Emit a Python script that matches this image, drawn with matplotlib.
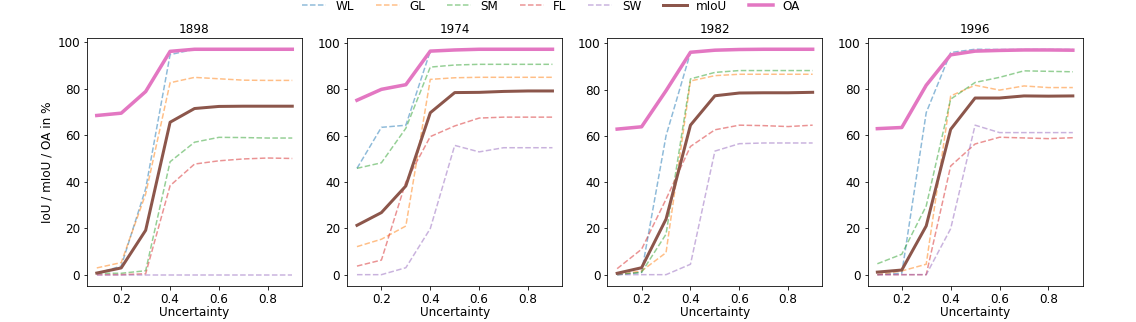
import matplotlib
matplotlib.use("Agg")
import matplotlib.pyplot as plt
import numpy as np

uncertainty = [0.1, 0.2, 0.3, 0.4, 0.5, 0.6, 0.7, 0.8, 0.9]
years = ["1898", "1974", "1982", "1996"]
series_names = ["WL", "GL", "SM", "FL", "SW", "mIoU", "OA"]

# values per year, in %
wl = {
    "1898": [0.5, 3.7, 37.0, 94.7, 97.0, 97.0, 97.0, 97.0, 97.0],
    "1974": [45.9, 63.6, 64.5, 96.5, 97.0, 97.3, 97.3, 97.3, 97.3],
    "1982": [0.0, 1.0, 60.0, 96.0, 97.0, 97.3, 97.4, 97.4, 97.4],
    "1996": [0.0, 0.6, 69.8, 95.7, 97.1, 97.0, 97.0, 97.0, 97.0],
}
gl = {
    "1898": [2.9, 5.2, 34.7, 82.6, 84.9, 84.3, 83.7, 83.6, 83.6],
    "1974": [12.1, 15.3, 21.0, 84.3, 85.0, 85.2, 85.2, 85.2, 85.2],
    "1982": [0.0, 1.6, 9.5, 83.7, 86.0, 86.6, 86.6, 86.6, 86.6],
    "1996": [0.0, 1.6, 4.5, 77.0, 81.6, 79.5, 81.3, 80.6, 80.6],
}
sm = {
    "1898": [0.6, 0.6, 1.7, 48.6, 57.0, 59.1, 59.0, 58.8, 58.8],
    "1974": [45.9, 48.3, 63.2, 89.6, 90.5, 90.8, 90.8, 90.8, 90.8],
    "1982": [0.0, 1.0, 17.5, 84.6, 87.4, 88.2, 88.2, 88.2, 88.2],
    "1996": [4.7, 8.8, 29.6, 75.6, 82.8, 85.0, 87.8, 87.6, 87.4],
}
fl = {
    "1898": [0.0, 0.0, 0.4, 38.3, 47.6, 49.0, 49.8, 50.2, 50.0],
    "1974": [3.7, 6.3, 40.0, 59.6, 64.2, 67.6, 68.0, 68.0, 68.0],
    "1982": [2.6, 11.0, 32.6, 55.4, 62.6, 64.6, 64.4, 64.0, 64.6],
    "1996": [0.0, 0.0, 0.0, 46.8, 56.3, 59.2, 58.9, 58.6, 59.0],
}
sw = {
    "1898": [0.0, 0.0, 0.0, 0.0, 0.0, 0.0, 0.0, 0.0, 0.0],
    "1974": [0.0, 0.0, 3.0, 19.9, 55.8, 53.0, 54.8, 54.8, 54.8],
    "1982": [0.0, 0.0, 0.0, 4.5, 53.4, 56.6, 56.9, 56.9, 56.9],
    "1996": [0.0, 0.0, 0.0, 19.8, 64.4, 61.2, 61.2, 61.2, 61.2],
}
miou = {
    "1898": [0.7, 2.9, 19.1, 65.6, 71.5, 72.4, 72.5, 72.5, 72.5],
    "1974": [21.3, 26.8, 38.3, 69.9, 78.6, 78.7, 79.1, 79.3, 79.3],
    "1982": [0.6, 3.0, 24.0, 64.6, 77.3, 78.5, 78.6, 78.6, 78.8],
    "1996": [1.1, 2.0, 21.0, 62.6, 76.1, 76.1, 77.0, 76.9, 77.0],
}
oa = {
    "1898": [68.5, 69.5, 78.8, 96.1, 97.0, 97.0, 97.0, 97.0, 97.0],
    "1974": [75.3, 80.0, 82.0, 96.5, 97.0, 97.3, 97.3, 97.3, 97.3],
    "1982": [62.9, 63.9, 79.5, 96.1, 97.0, 97.3, 97.4, 97.4, 97.4],
    "1996": [62.9, 63.4, 81.6, 94.7, 96.3, 96.6, 96.8, 96.8, 96.7],
}

all_series = [wl, gl, sm, fl, sw, miou, oa]
styles = [
    {"color": "tab:blue", "ls": "--", "lw": 1.5, "alpha": 0.5},
    {"color": "tab:orange", "ls": "--", "lw": 1.5, "alpha": 0.5},
    {"color": "tab:green", "ls": "--", "lw": 1.5, "alpha": 0.5},
    {"color": "tab:red", "ls": "--", "lw": 1.5, "alpha": 0.5},
    {"color": "tab:purple", "ls": "--", "lw": 1.5, "alpha": 0.5},
    {"color": "tab:brown", "ls": "-", "lw": 3.0, "alpha": 1.0},
    {"color": "tab:pink", "ls": "-", "lw": 3.5, "alpha": 1.0},
]

plt.rcParams.update({
    "font.size": 12,
    "axes.titlesize": 12,
    "axes.labelsize": 12,
    "legend.fontsize": 12,
})

fig, axes = plt.subplots(1, 4, figsize=(1136 / 72, 322 / 72), dpi=72)
fig.subplots_adjust(left=0.0766, right=0.953, bottom=0.112, top=0.882, wspace=0.21)

for ax, year in zip(axes, years):
    for name, data, st in zip(series_names, all_series, styles):
        ax.plot(uncertainty, data[year], label=name, color=st["color"],
                linestyle=st["ls"], linewidth=st["lw"], alpha=st["alpha"])
    ax.set_title(year, pad=4.5)
    ax.set_xlabel("Uncertainty", labelpad=0)
    ax.set_xticks([0.2, 0.4, 0.6, 0.8])
    ax.set_yticks([0, 20, 40, 60, 80, 100])

axes[0].set_ylabel("IoU / mIoU / OA in %")

handles, labels = axes[0].get_legend_handles_labels()
fig.legend(handles, labels, loc="upper center", ncol=7, frameon=False,
           bbox_to_anchor=(0.485, 1.035), columnspacing=1.8)

fig.savefig("out.png", dpi=72)
